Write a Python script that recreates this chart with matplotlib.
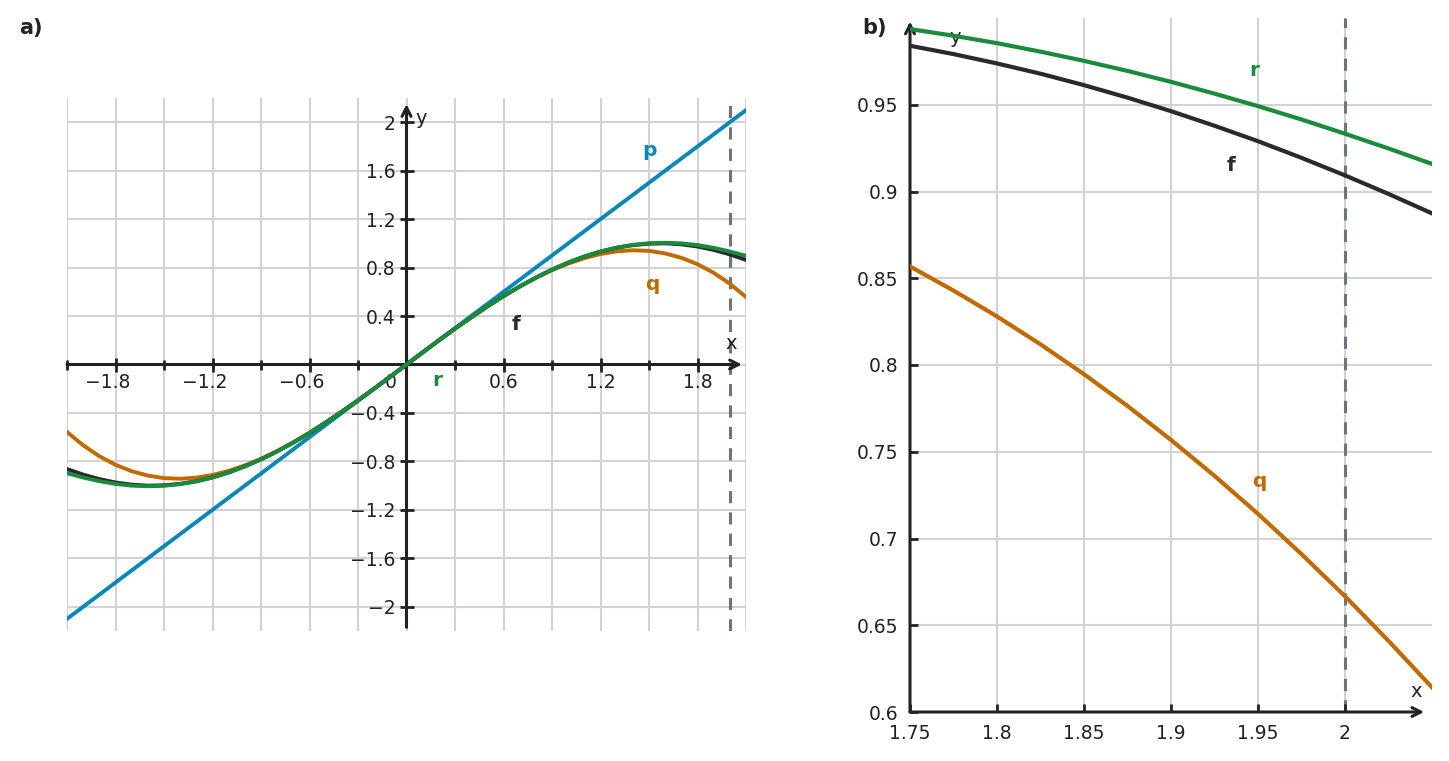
import matplotlib
matplotlib.use('Agg')
import matplotlib.pyplot as plt
from matplotlib.ticker import FixedLocator, FixedFormatter, NullFormatter

# colours
C_P = '#0a86b9'
C_Q = '#c06a00'
C_F = '#2a2a2e'
C_R = '#1a8a3c'
C_AX = '#222222'
C_GRID = '#d3d3d3'
C_DASH = '#6b7580'

FS = 13.5  # tick label size

# panel a) sample points
xa = [-2.1, -2.0, -1.9, -1.8, -1.7, -1.6, -1.5, -1.4, -1.3, -1.2, -1.1,
      -1.0, -0.9, -0.8, -0.7, -0.6, -0.5, -0.4, -0.3, -0.2, -0.1, 0.0,
      0.1, 0.2, 0.3, 0.4, 0.5, 0.6, 0.7, 0.8, 0.9, 1.0, 1.1,
      1.2, 1.3, 1.4, 1.5, 1.6, 1.7, 1.8, 1.9, 2.0, 2.1]
fa = [-0.863, -0.909, -0.946, -0.974, -0.992, -1.000, -0.997, -0.985, -0.964, -0.932, -0.891,
      -0.841, -0.783, -0.717, -0.644, -0.565, -0.479, -0.389, -0.296, -0.199, -0.100, 0.0,
      0.100, 0.199, 0.296, 0.389, 0.479, 0.565, 0.644, 0.717, 0.783, 0.841, 0.891,
      0.932, 0.964, 0.985, 0.997, 1.000, 0.992, 0.974, 0.946, 0.909, 0.863]
qa = [-0.557, -0.667, -0.757, -0.828, -0.881, -0.917, -0.938, -0.943, -0.934, -0.912, -0.878,
      -0.833, -0.779, -0.715, -0.643, -0.564, -0.479, -0.389, -0.296, -0.199, -0.100, 0.0,
      0.100, 0.199, 0.296, 0.389, 0.479, 0.564, 0.643, 0.715, 0.779, 0.833, 0.878,
      0.912, 0.934, 0.943, 0.938, 0.917, 0.881, 0.828, 0.757, 0.667, 0.557]
ra = [-0.897, -0.933, -0.963, -0.986, -1.000, -1.005, -1.001, -0.988, -0.965, -0.933, -0.892,
      -0.842, -0.783, -0.717, -0.644, -0.565, -0.479, -0.389, -0.296, -0.199, -0.100, 0.0,
      0.100, 0.199, 0.296, 0.389, 0.479, 0.565, 0.644, 0.717, 0.783, 0.842, 0.892,
      0.933, 0.965, 0.988, 1.001, 1.005, 1.000, 0.986, 0.963, 0.933, 0.897]
p_x = [-2.1, 2.1]
p_y = [-2.1, 2.1]

xa_ticks = [-1.8, -1.2, -0.6, 0.6, 1.2, 1.8]
xa_labels = ['\u22121.8', '\u22121.2', '\u22120.6', '0.6', '1.2', '1.8']
xa_minor = [-2.1, -1.5, -0.9, -0.3, 0.3, 0.9, 1.5]
ya_ticks = [-2.0, -1.6, -1.2, -0.8, -0.4, 0.4, 0.8, 1.2, 1.6, 2.0]
ya_labels = ['\u22122', '\u22121.6', '\u22121.2', '\u22120.8', '\u22120.4',
             '0.4', '0.8', '1.2', '1.6', '2']
xa_grid = [-2.1, -1.8, -1.5, -1.2, -0.9, -0.6, -0.3, 0.0, 0.3, 0.6, 0.9, 1.2, 1.5, 1.8, 2.1]
ya_grid = [-2.0, -1.6, -1.2, -0.8, -0.4, 0.0, 0.4, 0.8, 1.2, 1.6, 2.0]

# panel b) zoom near x = 2
xb = [1.75, 1.775, 1.8, 1.825, 1.85, 1.875, 1.9, 1.925, 1.95, 1.975, 2.0, 2.025, 2.05]
fb = [0.9840, 0.9792, 0.9738, 0.9679, 0.9613, 0.9541, 0.9463, 0.9379, 0.9290, 0.9194, 0.9093, 0.8986, 0.8874]
qb = [0.8568, 0.8429, 0.8280, 0.8119, 0.7947, 0.7764, 0.7568, 0.7361, 0.7142, 0.6910, 0.6667, 0.6410, 0.6142]
rb = [0.9936, 0.9898, 0.9855, 0.9806, 0.9753, 0.9695, 0.9632, 0.9564, 0.9492, 0.9415, 0.9333, 0.9248, 0.9159]

xb_ticks = [1.75, 1.8, 1.85, 1.9, 1.95, 2.0]
xb_labels = ['1.75', '1.8', '1.85', '1.9', '1.95', '2']
yb_ticks = [0.6, 0.65, 0.7, 0.75, 0.8, 0.85, 0.9, 0.95]
yb_labels = ['0.6', '0.65', '0.7', '0.75', '0.8', '0.85', '0.9', '0.95']

x_mark = 2.0

fig = plt.figure(figsize=(14.49, 7.61), dpi=100)
axa = fig.add_axes([67 / 1449, 1 - 631 / 761, 679 / 1449, 533 / 761])
axb = fig.add_axes([910 / 1449, 1 - 712 / 761, 522 / 1449, 694 / 761])

def arrow(ax, x0, y0, x1, y1):
    ax.annotate('', xy=(x1, y1), xytext=(x0, y0), annotation_clip=False,
                arrowprops=dict(arrowstyle='->', lw=2.2, color=C_AX,
                                shrinkA=0, shrinkB=0, mutation_scale=16))

# ---- panel a ----
ax = axa
ax.set_xlim(-2.1, 2.1)
ax.set_ylim(-2.2, 2.2)
for g in xa_grid:
    ax.axvline(g, color=C_GRID, lw=1.5, zorder=0)
for g in ya_grid:
    ax.axhline(g, color=C_GRID, lw=1.5, zorder=0)
ax.axvline(x_mark, color=C_DASH, lw=2.2, ls=(0, (4, 3)), zorder=1)

ax.plot(p_x, p_y, color=C_P, lw=2.8, zorder=3)
ax.plot(xa, qa, color=C_Q, lw=2.8, zorder=4)
ax.plot(xa, fa, color=C_F, lw=2.8, zorder=5)
ax.plot(xa, ra, color=C_R, lw=2.8, zorder=6)

for s in ax.spines.values():
    s.set_visible(False)
ax.spines['left'].set_position(('data', 0))
ax.spines['bottom'].set_position(('data', 0))
ax.xaxis.set_major_locator(FixedLocator(xa_ticks))
ax.xaxis.set_major_formatter(NullFormatter())
ax.xaxis.set_minor_locator(FixedLocator(xa_minor))
ax.yaxis.set_major_locator(FixedLocator(ya_ticks))
ax.yaxis.set_major_formatter(FixedFormatter(ya_labels))
ax.tick_params(which='both', direction='inout', length=10, width=2, color=C_AX,
               labelsize=FS, labelcolor=C_AX, pad=3)
ax.tick_params(which='minor', length=7)

# x tick labels: the digits are centred on the tick, the minus sign hangs left
for xv, lab in zip(xa_ticks, xa_labels):
    if lab.startswith('\u2212'):
        ax.annotate(lab, xy=(xv, 0), xytext=(0.795 * FS, -13), textcoords='offset points',
                    ha='right', va='center', fontsize=FS, color=C_AX)
    else:
        ax.annotate(lab, xy=(xv, 0), xytext=(0, -13), textcoords='offset points',
                    ha='center', va='center', fontsize=FS, color=C_AX)
ax.annotate('0', xy=(0, 0), xytext=(-11.5, -13), textcoords='offset points',
            ha='center', va='center', fontsize=FS, color=C_AX)

arrow(ax, -2.1, 0, 2.075, 0)
arrow(ax, 0, -2.17, 0, 2.15)
ax.text(2.01, 0.17, 'x', fontsize=14, color=C_AX, ha='center', va='center')
ax.text(0.09, 2.03, 'y', fontsize=14, color=C_AX, ha='center', va='center')

ax.text(1.5, 1.77, 'p', fontsize=14.5, fontweight='bold', color=C_P, ha='center', va='center')
ax.text(1.52, 0.66, 'q', fontsize=14.5, fontweight='bold', color=C_Q, ha='center', va='center')
ax.text(0.68, 0.33, 'f', fontsize=14.5, fontweight='bold', color=C_F, ha='center', va='center')
ax.text(0.19, -0.13, 'r', fontsize=14.5, fontweight='bold', color=C_R, ha='center', va='center')

# ---- panel b ----
ax = axb
ax.set_xlim(1.75, 2.05)
ax.set_ylim(0.6, 1.0)
for g in xb_ticks[1:]:
    ax.axvline(g, color=C_GRID, lw=1.5, zorder=0)
for g in yb_ticks[1:]:
    ax.axhline(g, color=C_GRID, lw=1.5, zorder=0)
ax.axvline(x_mark, color=C_DASH, lw=2.2, ls=(0, (4, 3)), zorder=1)

ax.plot(xb, qb, color=C_Q, lw=3.0, zorder=4)
ax.plot(xb, fb, color=C_F, lw=3.0, zorder=5)
ax.plot(xb, rb, color=C_R, lw=3.0, zorder=6)

for s in ax.spines.values():
    s.set_visible(False)
ax.xaxis.set_major_locator(FixedLocator(xb_ticks))
ax.xaxis.set_major_formatter(FixedFormatter(xb_labels))
ax.yaxis.set_major_locator(FixedLocator(yb_ticks))
ax.yaxis.set_major_formatter(FixedFormatter(yb_labels))
ax.tick_params(which='both', direction='in', length=6, width=2, color=C_AX,
               labelsize=FS, labelcolor=C_AX, pad=8.5)
arrow(ax, 1.75, 0.6, 2.0455, 0.6)
arrow(ax, 1.75, 0.6, 1.75, 0.998)
ax.text(2.041, 0.612, 'x', fontsize=14, color=C_AX, ha='center', va='center')
ax.text(1.776, 0.989, 'y', fontsize=14, color=C_AX, ha='center', va='center')

ax.text(1.948, 0.970, 'r', fontsize=14.5, fontweight='bold', color=C_R, ha='center', va='center')
ax.text(1.9345, 0.915, 'f', fontsize=14.5, fontweight='bold', color=C_F, ha='center', va='center')
ax.text(1.951, 0.733, 'q', fontsize=14.5, fontweight='bold', color=C_Q, ha='center', va='center')

fig.text(31 / 1449, 1 - 28 / 761, 'a)', fontsize=15, fontweight='bold', color=C_AX,
         ha='center', va='center')
fig.text(874 / 1449, 1 - 28 / 761, 'b)', fontsize=15, fontweight='bold', color=C_AX,
         ha='center', va='center')

fig.savefig('out.png', dpi=100)
